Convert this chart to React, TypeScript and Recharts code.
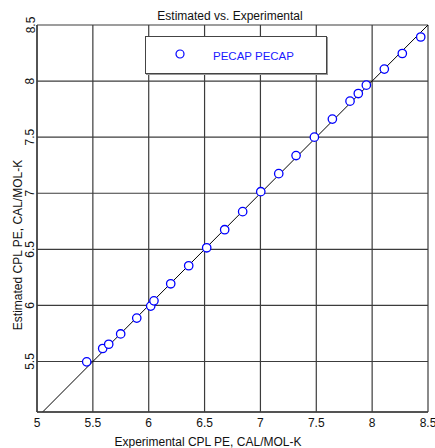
import React from 'react';
import {
  ScatterChart,
  Scatter,
  XAxis,
  YAxis,
  CartesianGrid,
  ReferenceLine,
} from 'recharts';

// experimental vs estimated values
const experimental = [
  5.445, 5.588, 5.642, 5.749, 5.893, 6.018, 6.047, 6.197, 6.358, 6.519, 6.68, 6.841,
  7.003, 7.164, 7.319, 7.483, 7.644, 7.802, 7.876, 7.948, 8.109, 8.27, 8.435,
];
const estimated = [
  5.497, 5.616, 5.654, 5.746, 5.887, 5.994, 6.041, 6.193, 6.354, 6.514, 6.675, 6.836,
  7.014, 7.175, 7.336, 7.5, 7.661, 7.821, 7.889, 7.964, 8.107, 8.246, 8.393,
];
const xTicks = [5, 5.5, 6, 6.5, 7, 7.5, 8, 8.5];
const yTicks = [5.5, 6, 6.5, 7, 7.5, 8, 8.5];
const diagonal = [5.05, 8.5];

const points = experimental.map((x, i) => ({ x, y: estimated[i] }));

const FONT = '"Liberation Sans", Arial, sans-serif';
const GRID = '#3c3c3c';

const XTick = ({ x, payload }: any) => (
  <text x={x} y={427} textAnchor="middle" fontSize={12} fill="#111" fontFamily={FONT}>
    {payload.value}
  </text>
);

const YTick = ({ y, payload }: any) => (
  <text
    x={34.5}
    y={y}
    textAnchor="middle"
    fontSize={12}
    fill="#111"
    fontFamily={FONT}
    transform={`rotate(-90, 34.5, ${y})`}
  >
    {payload.value}
  </text>
);

const Marker = (props: any) => (
  <circle cx={props.cx} cy={props.cy} r={4.2} fill="#fff" stroke="#0000ff" strokeWidth={1.3} />
);

const LegendBox = () => (
  <div
    style={{
      position: 'absolute',
      left: 145,
      top: 36,
      width: 180,
      height: 36,
      border: '1px solid #444',
      boxShadow: '1px 1px 0 #999',
      background: '#fff',
      fontFamily: FONT,
    }}
  >
    <svg width={12} height={12} style={{ position: 'absolute', left: 28, top: 11 }}>
      <circle cx={6} cy={6} r={4} fill="#fff" stroke="#0000ff" strokeWidth={1.2} />
    </svg>
    <span
      style={{
        position: 'absolute',
        left: 67,
        top: 13,
        fontSize: 11.5,
        color: '#1a1aff',
        whiteSpace: 'nowrap',
        lineHeight: '13px',
      }}
    >
      PECAP PECAP
    </span>
  </div>
);

const App = () => {
  return (
    <div style={{ position: 'absolute', left: 0, top: 0, width: 435, height: 448, background: '#fff' }}>
      <div
        style={{
          position: 'absolute',
          left: 0,
          width: 460,
          top: 9,
          textAlign: 'center',
          fontFamily: FONT,
          fontSize: 12,
          lineHeight: '14px',
          color: '#111',
        }}
      >
        Estimated vs. Experimental
      </div>
      <ScatterChart width={435} height={448} margin={{ top: 25, right: 7, bottom: 0, left: 0 }}>
        <CartesianGrid stroke={GRID} strokeWidth={1.2} />
        <XAxis
          type="number"
          dataKey="x"
          domain={[5, 8.5]}
          ticks={xTicks}
          height={36}
          axisLine={{ stroke: GRID, strokeWidth: 1.4 }}
          tickLine={false}
          tick={<XTick />}
          interval={0}
          label={{
            value: 'Experimental CPL PE, CAL/MOL-K',
            content: () => (
              <text x={208} y={446} textAnchor="middle" fontSize={12} fill="#111" fontFamily={FONT}>
                Experimental CPL PE, CAL/MOL-K
              </text>
            ),
          }}
        />
        <YAxis
          type="number"
          dataKey="y"
          domain={[5.05, 8.5]}
          ticks={yTicks}
          width={37}
          axisLine={{ stroke: GRID, strokeWidth: 1.4 }}
          tickLine={false}
          tick={<YTick />}
          interval={0}
          allowDataOverflow
          label={{
            value: 'Estimated CPL PE, CAL/MOL-K',
            content: () => (
              <text
                x={22}
                y={245}
                textAnchor="middle"
                fontSize={12}
                fill="#111"
                fontFamily={FONT}
                transform="rotate(-90, 22, 245)"
              >
                Estimated CPL PE, CAL/MOL-K
              </text>
            ),
          }}
        />
        <ReferenceLine
          segment={[
            { x: diagonal[0], y: diagonal[0] },
            { x: diagonal[1], y: diagonal[1] },
          ]}
          stroke="#000"
          strokeWidth={1}
          ifOverflow="visible"
        />
        <Scatter
          name="PECAP PECAP"
          data={points}
          shape={<Marker />}
          isAnimationActive={false}
        />
      </ScatterChart>
      <LegendBox />
    </div>
  );
};

export default App;
